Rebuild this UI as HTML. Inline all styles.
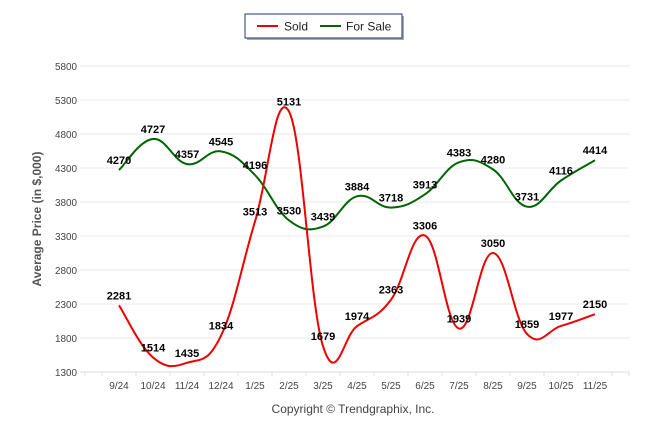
<!DOCTYPE html>
<html><head><meta charset="utf-8"><style>
body{margin:0;background:#fff;font-family:"Liberation Sans",Arial,sans-serif}
</style></head><body>
<svg width="646" height="434" viewBox="0 0 646 434" id="chart" style="display:block">
<g>
<rect x="247" y="16" width="157" height="24" fill="#555" opacity="0.5"/>
<rect x="245" y="14" width="157" height="24" fill="#fff" stroke="#1f3864" stroke-width="1"/>
<g><line x1="257" y1="26" x2="278" y2="26" stroke="#ee0000" stroke-width="2"/><text x="284" y="30.5" font-size="12" fill="#222">Sold</text></g>
<g><line x1="320" y1="26" x2="341" y2="26" stroke="#006400" stroke-width="2"/><text x="346" y="30.5" font-size="12" fill="#222">For Sale</text></g>
</g>
<text transform="translate(41,219) rotate(-90)" text-anchor="middle" font-size="12" font-weight="bold" fill="#555">Average Price (in $,000)</text>
<text x="353" y="413" text-anchor="middle" font-size="12" fill="#444">Copyright © Trendgraphix, Inc.</text>
<g id="grid"></g><g id="series"></g><g id="labels"></g>
</svg>
<script>
const categories=["9/24","10/24","11/24","12/24","1/25","2/25","3/25","4/25","5/25","6/25","7/25","8/25","9/25","10/25","11/25"];
const soldValues=[2281,1514,1435,1834,3513,5131,1679,1974,2363,3306,1939,3050,1859,1977,2150];
const forSaleValues=[4270,4727,4357,4545,4196,3530,3439,3884,3718,3913,4383,4280,3731,4116,4414];
const yTicks=[1300,1800,2300,2800,3300,3800,4300,4800,5300,5800];
const NS="http://www.w3.org/2000/svg";
const yMin=1300,yMax=5800,yTop=66,yBot=372,xL=85,xR=629;
const step=(xR-xL)/16;
function x(i){return xL+step*(i+1);}
function y(v){return yBot-(v-yMin)/(yMax-yMin)*(yBot-yTop);}
function mk(tag,attrs,parent){const e=document.createElementNS(NS,tag);for(const k in attrs)e.setAttribute(k,attrs[k]);parent.appendChild(e);return e;}
const grid=document.getElementById('grid');
yTicks.forEach(t=>{
 const l=mk('line',{x1:80,x2:xR,y1:y(t),y2:y(t),stroke:t===yMin?'#ddd':'#e8e8e8','stroke-width':1},grid);
 
 
 const tx=mk('text',{x:77,y:y(t)+4,'text-anchor':'end','font-size':10,fill:'#444',textLength:22,lengthAdjust:'spacingAndGlyphs'},grid);
 tx.textContent=t;
 
 
});
const tickXs=[xL];
for(let i=0;i<=categories.length;i++)tickXs.push(xL+step*(i+0.5));
tickXs.push(xR);
tickXs.forEach(tx0=>{mk('line',{x1:tx0,x2:tx0,y1:yBot,y2:yBot+4,stroke:'#ddd'},grid);});
categories.forEach((c,i)=>{
 const tx=mk('text',{x:x(i),y:389,'text-anchor':'middle','font-size':10,fill:'#444'},grid);
 tx.textContent=c;
 
 
});
function path(vals){
 const p=vals.map((v,i)=>[x(i),y(v)]);
 let d='M'+p[0][0]+','+p[0][1];
 for(let i=0;i<p.length-1;i++){
  const p0=p[Math.max(0,i-1)],p1=p[i],p2=p[i+1],p3=p[Math.min(p.length-1,i+2)];
  const t=0.2;
  d+=' C'+(p1[0]+(p2[0]-p0[0])*t)+','+(p1[1]+(p2[1]-p0[1])*t)+' '+(p2[0]-(p3[0]-p1[0])*t)+','+(p2[1]-(p3[1]-p1[1])*t)+' '+p2[0]+','+p2[1];
 }
 return d;
}
const ser=document.getElementById('series'),lab=document.getElementById('labels');
[[forSaleValues,'#006400','for-sale'],[soldValues,'#ee0000','sold']].forEach(([vals,col,nm])=>{
 const p=mk('path',{d:path(vals),fill:'none',stroke:col,'stroke-width':2},ser);
 
 
 vals.forEach((v,i)=>{
  const t=mk('text',{x:x(i),y:y(v)-6,'text-anchor':'middle','font-size':11,'font-weight':'bold',fill:'#000'},lab);
  t.textContent=v;
  
  
 });
});
</script>
</body></html>
